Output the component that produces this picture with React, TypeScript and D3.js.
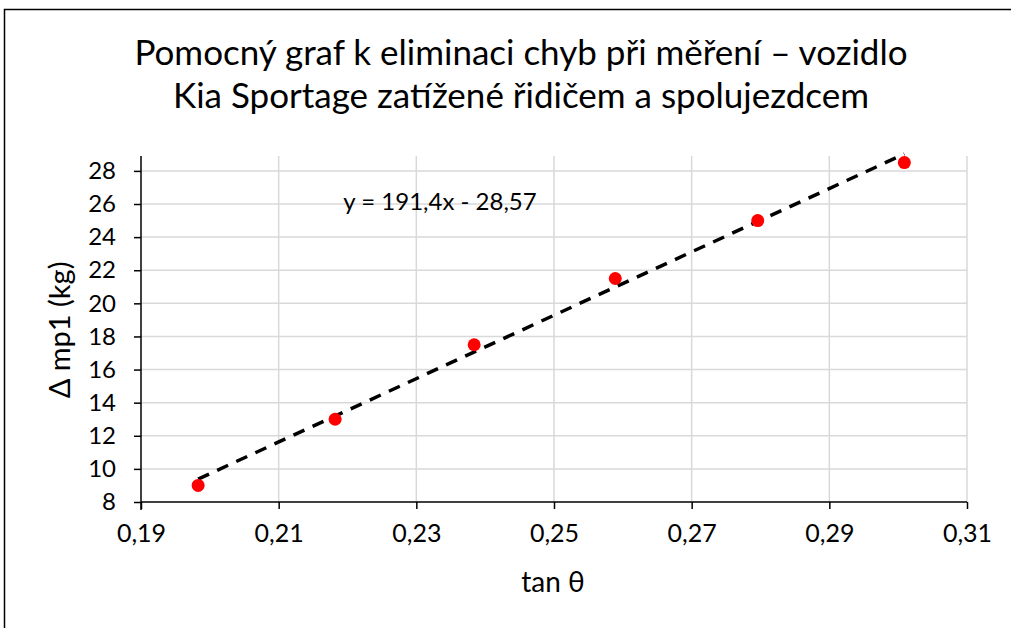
import React, { useEffect, useRef } from "react";
import * as d3 from "d3";

// measured points: tan θ vs Δ mp1 (kg)
const tanTheta = [0.1983, 0.2182, 0.2384, 0.2589, 0.2796, 0.3009];
const deltaMass = [9, 13, 17.5, 21.5, 25, 28.5];
const xTicks = [0.19, 0.21, 0.23, 0.25, 0.27, 0.29, 0.31];
const yTicks = [8, 10, 12, 14, 16, 18, 20, 22, 24, 26, 28];
const slope = 191.4;
const intercept = -28.57;

const titleLines = [
  "Pomocný graf k eliminaci chyb při měření – vozidlo",
  "Kia Sportage zatížené řidičem a spolujezdcem",
];

const W = 1011;
const H = 628;
const FONT = "Lato, 'Open Sans', sans-serif";

const App = () => {
  const svgRef = useRef<SVGSVGElement>(null);

  useEffect(() => {
    const svg = d3.select(svgRef.current);
    svg.selectAll("*").remove();

    const left = 141, right = 967, top = 156, bottom = 502;

    const x = d3.scaleLinear().domain([0.19, 0.31]).range([left, right]);
    const y = d3.scaleLinear().domain([8, 28.9]).range([bottom, top]);

    // outer frame
    svg.append("rect")
      .attr("x", 4.5).attr("y", 9.5)
      .attr("width", W + 10).attr("height", H + 10)
      .attr("fill", "white").attr("stroke", "black").attr("stroke-width", 1.5);

    // title
    svg.append("g").selectAll("text")
      .data(titleLines)
      .join("text")
      .attr("x", 521)
      .attr("y", (d, i) => 65 + i * 43)
      .attr("text-anchor", "middle")
      .attr("font-family", FONT)
      .attr("font-size", 35)
      .attr("fill", "#000")
      .text((d) => d);

    // gridlines
    svg.append("g").selectAll("line")
      .data(yTicks.filter((t) => t > 8))
      .join("line")
      .attr("x1", left).attr("x2", right)
      .attr("y1", (d) => y(d)).attr("y2", (d) => y(d))
      .attr("stroke", "#d9d9d9").attr("stroke-width", 1.5);

    svg.append("g").selectAll("line")
      .data(xTicks.slice(1))
      .join("line")
      .attr("x1", (d) => x(d)).attr("x2", (d) => x(d))
      .attr("y1", top).attr("y2", bottom)
      .attr("stroke", "#d9d9d9").attr("stroke-width", 1.5);

    // axes
    const xAxis = svg.append("g")
      .attr("transform", `translate(0, ${bottom})`)
      .call(d3.axisBottom(x).tickValues(xTicks).tickSize(7).tickPadding(15)
        .tickFormat((d) => d3.format(".2f")(d as number).replace(".", ",")));
    xAxis.select(".domain").attr("stroke", "#000").attr("stroke-width", 1.5)
      .attr("d", `M${left},0H${right}`);
    xAxis.selectAll(".tick line").attr("stroke", "#000").attr("stroke-width", 1.5);
    xAxis.selectAll("text").attr("font-family", FONT).attr("font-size", 25).attr("fill", "#000");

    const yAxis = svg.append("g")
      .attr("transform", `translate(${left}, 0)`)
      .call(d3.axisLeft(y).tickValues(yTicks).tickSize(7).tickPadding(18));
    yAxis.select(".domain").attr("stroke", "#000").attr("stroke-width", 1.5)
      .attr("d", `M0,${top}V${bottom + 8}`);
    yAxis.selectAll(".tick line").attr("stroke", "#000").attr("stroke-width", 1.5);
    yAxis.selectAll("text").attr("font-family", FONT).attr("font-size", 24).attr("fill", "#000");

    // axis titles
    svg.append("text")
      .attr("x", 553).attr("y", 592)
      .attr("text-anchor", "middle")
      .attr("font-family", FONT).attr("font-size", 28)
      .text("tan θ");

    svg.append("text")
      .attr("transform", `translate(70, 330) rotate(-90)`)
      .attr("text-anchor", "middle")
      .attr("font-family", FONT).attr("font-size", 29)
      .text("Δ mp1 (kg)");

    // trendline
    const [x0, x1] = d3.extent(tanTheta) as [number, number];
    svg.append("line")
      .attr("x1", x(x0)).attr("y1", y(slope * x0 + intercept))
      .attr("x2", x(x1)).attr("y2", y(slope * x1 + intercept))
      .attr("stroke", "#000").attr("stroke-width", 3.5)
      .attr("stroke-dasharray", "12,9");

    // points
    svg.append("g").selectAll("circle")
      .data(tanTheta)
      .join("circle")
      .attr("cx", (d) => x(d))
      .attr("cy", (d, i) => y(deltaMass[i]))
      .attr("r", 6.5)
      .attr("fill", "#ff0000");

    // equation label
    svg.append("text")
      .attr("x", 440).attr("y", 210)
      .attr("text-anchor", "middle")
      .attr("font-family", FONT).attr("font-size", 24)
      .text("y = 191,4x - 28,57");
  }, []);

  return <svg ref={svgRef} width={W} height={H} style={{ position: "absolute", left: 0, top: 0 }} />;
};

export default App;
